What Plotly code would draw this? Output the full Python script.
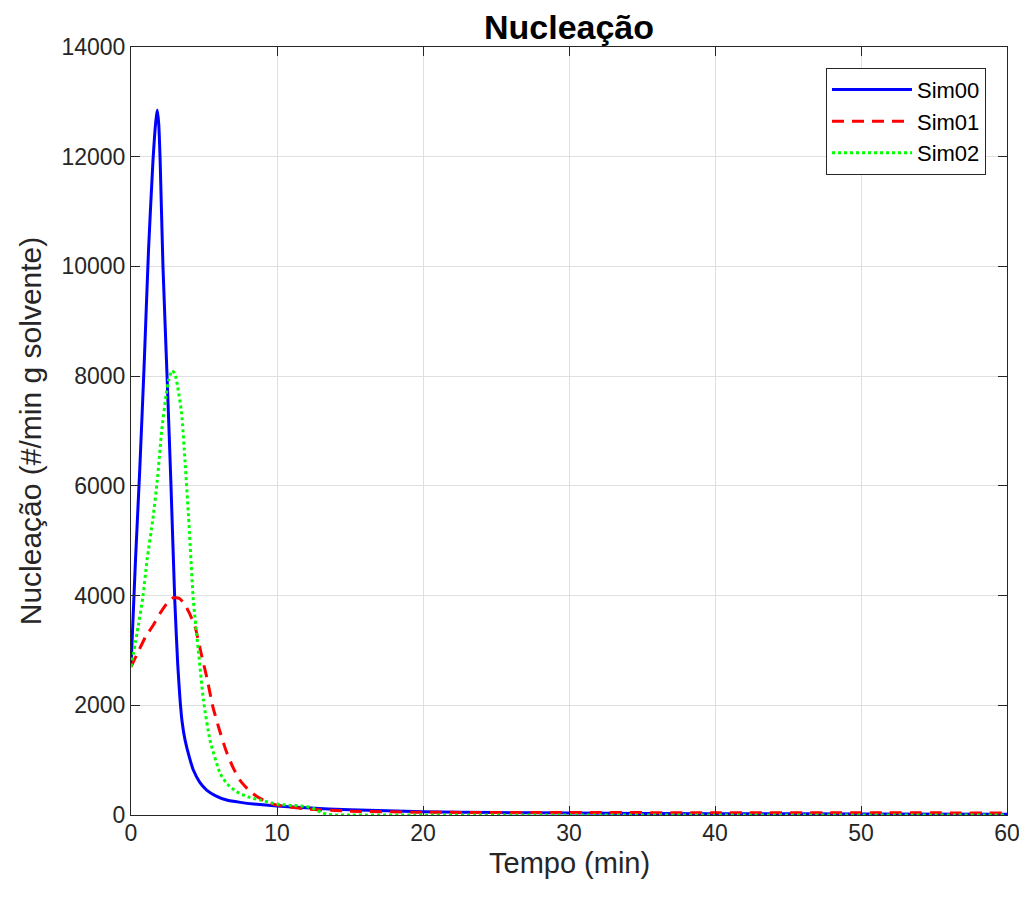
import plotly.graph_objects as go

# Sim00
t_sim00 = [0, 0.3, 0.6, 0.9, 1.2, 1.5, 1.7, 1.8, 1.9, 2.0, 2.19, 2.47, 2.74, 3.0, 3.2, 3.36,
           3.5, 3.7, 4.0, 4.27, 4.7, 5.18, 5.8, 6.55, 7.5, 8.4, 10, 12, 15, 20, 25, 30, 40,
           50, 60]
y_sim00 = [2700, 4600, 6300, 8200, 10300, 11900, 12650, 12850, 12600, 11900, 10000, 8000,
           6000, 3900, 2750, 2100, 1700, 1370, 1050, 820, 600, 455, 350, 273, 230, 200, 164,
           130, 95, 60, 45, 35, 25, 18, 15]

# Sim01
t_sim01 = [0, 0.5, 1.0, 1.5, 2.0, 2.5, 2.9, 3.3, 3.6, 4.0, 4.4, 4.8, 5.2, 5.6, 6.0, 6.5,
           7.0, 7.5, 8.0, 8.5, 9.0, 9.5, 10, 12, 15, 20, 30, 40, 50, 60]
y_sim01 = [2700, 2980, 3250, 3450, 3680, 3870, 3960, 3950, 3870, 3680, 3420, 2950, 2500,
           1980, 1600, 1180, 860, 620, 470, 360, 280, 220, 180, 110, 70, 50, 45, 42, 40, 38]

# Sim02
t_sim02 = [0, 0.5, 0.8, 1.1, 1.5, 1.8, 2.1, 2.4, 2.6, 2.8, 3.0, 3.2, 3.47, 3.7, 3.93, 4.27,
           4.61, 4.96, 5.41, 6.1, 6.6, 7.24, 8.0, 8.84, 10, 11, 12, 12.5, 13, 13.5, 14, 20,
           30, 40, 50, 60]
y_sim02 = [2700, 3450, 3950, 4650, 5400, 6100, 7000, 7650, 7950, 8100, 8050, 7800, 7316,
           6450, 5490, 3916, 3005, 2095, 1366, 760, 560, 424, 330, 273, 200, 175, 155, 120,
           50, 10, 0, 0, 0, 0, 0, 0]

x_ticks = [0, 10, 20, 30, 40, 50, 60]
y_ticks = [0, 2000, 4000, 6000, 8000, 10000, 12000, 14000]

FONT = "Liberation Sans, Arial, sans-serif"
AX = "#262626"
GRID = "#dfdfdf"

# page has an 8px body margin; figure sized to fit the window
W, H = 1019, 891

fig = go.Figure()
fig.add_trace(go.Scatter(x=t_sim00, y=y_sim00, name="Sim00", mode="lines",
                         line=dict(color="#0000FF", width=3, shape="spline", smoothing=0.5)))
fig.add_trace(go.Scatter(x=t_sim01, y=y_sim01, name="Sim01", mode="lines",
                         line=dict(color="#FF0000", width=3, dash="12px,8px", shape="spline", smoothing=0.5)))
fig.add_trace(go.Scatter(x=t_sim02, y=y_sim02, name="Sim02", mode="lines",
                         line=dict(color="#00FF00", width=3, dash="3px,3px", shape="spline", smoothing=0.5)))

axis_common = dict(
    showline=True, linecolor=AX, linewidth=1, mirror="ticks",
    ticks="inside", ticklen=9, tickcolor=AX, tickwidth=1,
    showgrid=True, gridcolor=GRID, gridwidth=1, zeroline=False,
    tickfont=dict(family=FONT, size=23, color=AX), automargin=False,
)

fig.update_layout(
    width=W, height=H,
    margin=dict(l=123, r=20, t=39, b=84, autoexpand=False),
    paper_bgcolor="white", plot_bgcolor="white",
    font=dict(family=FONT, color=AX),
    title=dict(text="<b>Nucleação</b>", x=561 / W, xanchor="center",
               y=1 - 19 / H, yanchor="middle", yref="container",
               font=dict(family=FONT, size=34, color="black")),
    xaxis=dict(range=[0, 60], tickvals=x_ticks, ticklabelstandoff=-3, **axis_common),
    yaxis=dict(range=[0, 14000], tickvals=y_ticks, tickformat="d", **axis_common,
               title=dict(text="Nucleação (#/min g solvente)", font=dict(family=FONT, size=30, color=AX), standoff=10)),
    legend=dict(x=0.976, y=0.973, xanchor="right", yanchor="top",
                bgcolor="white", bordercolor=AX, borderwidth=1,
                font=dict(family=FONT, size=22, color="black"),
                itemwidth=80, tracegroupgap=0),
    showlegend=True,
    annotations=[dict(text="Tempo (min)", xref="paper", yref="paper", x=0.5, y=0,
                      xanchor="center", yanchor="middle", yshift=-48, showarrow=False,
                      borderpad=0, font=dict(family=FONT, size=29, color=AX))],
)

fig.write_html("out.html")
